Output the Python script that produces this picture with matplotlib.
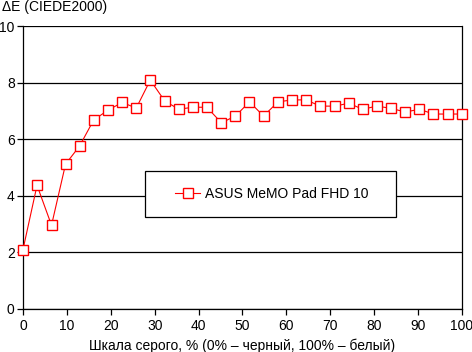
import numpy as np
import matplotlib
matplotlib.use('Agg')
import matplotlib.pyplot as plt
from matplotlib.legend_handler import HandlerLine2D

plt.rcParams['font.family'] = ['Liberation Sans', 'DejaVu Sans']

# grey level, % (32 steps from 0 to 100)
gray_levels = [0, 3.2, 6.5, 9.7, 12.9, 16.1, 19.4, 22.6, 25.8, 29.0, 32.3,
               35.5, 38.7, 41.9, 45.2, 48.4, 51.6, 54.8, 58.1, 61.3, 64.5,
               67.7, 71.0, 74.2, 77.4, 80.6, 83.9, 87.1, 90.3, 93.5, 96.8, 100]
# delta E values
delta_e = [2.10, 4.37, 2.96, 5.12, 5.76, 6.68, 7.03, 7.30, 7.10, 8.09, 7.35,
           7.06, 7.13, 7.13, 6.58, 6.82, 7.32, 6.82, 7.32, 7.39, 7.39,
           7.17, 7.17, 7.27, 7.06, 7.17, 7.09, 6.96, 7.06, 6.89, 6.89, 6.89]

series_name = 'ASUS MeMO Pad FHD 10'
x_ticks = list(range(0, 101, 10))
y_ticks = [0, 2, 4, 6, 8, 10]

fig = plt.figure(figsize=(4.72, 3.52), dpi=100)
ax = fig.add_axes([0.0487, 0.1222, 0.930, 0.8038])

line, = ax.plot(gray_levels, delta_e, color='#ff0000', linewidth=0.8,
                marker='s', markersize=7.5, markerfacecolor='white',
                markeredgecolor='#ff0000', markeredgewidth=1.0,
                label=series_name, clip_on=False, zorder=3)

ax.set_xlim(0, 100)
ax.set_ylim(0, 10)
ax.set_xticks(x_ticks)
ax.set_yticks(y_ticks)
ax.yaxis.grid(True, color='black', linewidth=0.9)
ax.set_axisbelow(True)
for s in ax.spines.values():
    s.set_color('black')
    s.set_linewidth(0.9)
ax.spines['top'].set_visible(False)
ax.tick_params(axis='both', direction='out', length=4, width=0.9,
               labelsize=10, colors='black')
ax.tick_params(axis='y', pad=2)
ax.tick_params(axis='x', pad=3)

ax.set_xlabel('Шкала серого, % (0% – черный, 100% – белый)', fontsize=10, labelpad=4)
fig.text(0.004, 0.98, 'ΔE (CIEDE2000)', fontsize=10, ha='left', va='center')

# legend box with extra room on the left like the original
leg = ax.legend(handles=[line], loc='center', bbox_to_anchor=(0.564, 0.408),
                fontsize=10, frameon=True, fancybox=False, framealpha=1,
                edgecolor='black', borderpad=1.15, handlelength=2.8,
                handletextpad=0.35, borderaxespad=0,
                handler_map={line: HandlerLine2D(xpad=1.0)})
leg.texts[0].set_text(series_name + '   ')
leg.get_frame().set_linewidth(0.9)

plt.savefig('out.png', dpi=100)
